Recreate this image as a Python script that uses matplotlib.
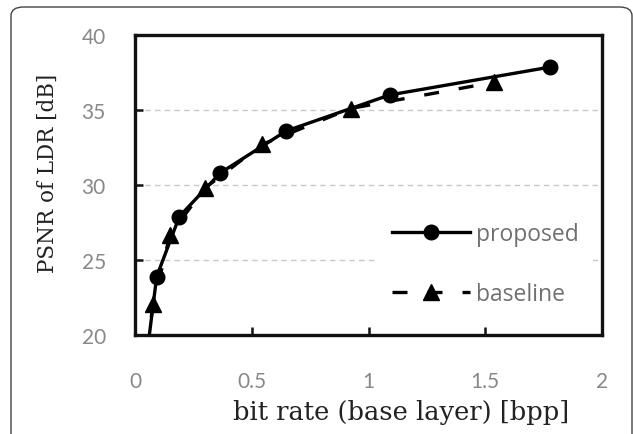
import matplotlib.pyplot as plt
from matplotlib.patches import FancyBboxPatch

# data
proposed_x = [0.05, 0.093, 0.19, 0.365, 0.647, 1.09, 1.777]
proposed_y = [18.6, 23.9, 27.9, 30.8, 33.6, 36.0, 37.86]
baseline_x = [0.045, 0.079, 0.15, 0.30, 0.544, 0.923, 1.538]
baseline_y = [18.9, 22.1, 26.7, 29.8, 32.7, 35.1, 36.85]

x_ticks = [0, 0.5, 1, 1.5, 2]
x_labels = ['0', '0.5', '1', '1.5', '2']
y_ticks = [20, 25, 30, 35, 40]

fig = plt.figure(figsize=(6.33, 4.35), dpi=100)
fig.patch.set_facecolor('white')

# rounded outer frame
frame = FancyBboxPatch((11 / 633, -0.2), (621 / 633), 1.2 - 8 / 435,
                       boxstyle='round,pad=0,rounding_size=0.02',
                       transform=fig.transFigure, facecolor='none',
                       edgecolor='#444444', linewidth=1.0)
fig.patches.append(frame)

ax = fig.add_axes([135 / 633, 1 - 336 / 435, 467 / 633, 300 / 435])

ax.plot(baseline_x, baseline_y, color='black', lw=2.4, ls=(0, (4.5, 6)),
        marker='^', ms=11, label='baseline', zorder=3)
ax.plot(proposed_x, proposed_y, color='black', lw=2.4, ls='-',
        marker='o', ms=10.5, label='proposed', zorder=4)

ax.set_xlim(0, 2)
ax.set_ylim(20, 40)
ax.set_xticks(x_ticks)
ax.set_xticklabels(x_labels)
ax.set_yticks(y_ticks)

for y in [25, 30, 35]:
    ax.axhline(y, color='#c8c8c8', lw=1.0, ls=(0, (4, 3)), zorder=1)

for s in ax.spines.values():
    s.set_linewidth(2.4)
    s.set_color('#111111')

ax.tick_params(direction='in', length=6, width=1.8, colors='#111111',
               labelcolor='#888888', labelsize=15)
ax.tick_params(axis='x', pad=26)
ax.tick_params(axis='y', pad=21)
for lab in ax.get_xticklabels() + ax.get_yticklabels():
    lab.set_family('Lato')

ax.set_xlabel('bit rate (base layer) [bpp]', family='DejaVu Serif',
              fontsize=18.5, color='#222222', va='center')
ax.set_ylabel('PSNR of LDR [dB]', family='DejaVu Serif',
              fontsize=15.5, color='#222222', va='center')
ax.xaxis.set_label_coords(0.57, -0.255)
ax.yaxis.set_label_coords(-0.186, 0.543)

h, l = ax.get_legend_handles_labels()
leg = ax.legend(h[::-1], l[::-1], loc='lower left',
                bbox_to_anchor=(0.52, 0.05), frameon=True,
                prop={'family': 'Open Sans', 'size': 16.5},
                handlelength=3.4, handletextpad=0.3, labelspacing=1.6,
                borderpad=0.6, borderaxespad=0)
leg.get_frame().set_facecolor('white')
leg.get_frame().set_edgecolor('none')
leg.get_frame().set_alpha(1)
leg.set_zorder(2)
for t in leg.get_texts():
    t.set_color('#707070')

fig.savefig('out.png', dpi=100)
